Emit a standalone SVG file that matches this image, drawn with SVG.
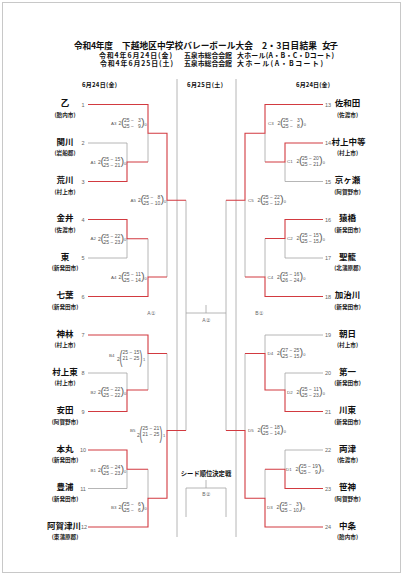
<svg xmlns="http://www.w3.org/2000/svg" width="405" height="577" viewBox="0 0 405 577">
<style>
.t{font-family:"Noto Sans CJK JP",sans-serif;font-weight:bold;fill:#111}
.n{font-family:"Noto Sans CJK JP",sans-serif;font-weight:bold;font-size:8.5px;text-anchor:middle;fill:#111}
.c{font-family:"Noto Sans CJK JP",sans-serif;font-weight:bold;font-size:5.6px;text-anchor:middle;fill:#222}
.num{font-family:"Liberation Sans",sans-serif;font-size:5.5px;text-anchor:middle;fill:#666}
.s{font-family:"Liberation Sans",sans-serif;font-size:5px;fill:#555}
.k{font-family:"Liberation Sans",sans-serif;font-size:4.4px;fill:#555}
.e{text-anchor:end}
.tr{font-family:"Liberation Sans",sans-serif;font-size:4px;fill:#555}
.p{font-family:"Liberation Sans",sans-serif;font-size:11px;fill:#666}
.lb{font-family:"Liberation Sans",sans-serif;font-size:5px;fill:#666;text-anchor:middle}
.r{stroke:#d23a40;stroke-width:1.1;fill:none}
.g{stroke:#a3a3a3;stroke-width:0.8;fill:none}
</style>
<rect x="0" y="0" width="405" height="577" fill="#fff"/>
<rect x="2.5" y="2.5" width="398" height="570" fill="none" stroke="#c8c8c8" stroke-width="1"/>

<g id="title">
<text class="t" font-size="8.7" x="74" y="48.6" textLength="39">令和4年度</text>
<text class="t" font-size="8.7" x="122" y="48.6" textLength="131">下越地区中学校バレーボール大会</text>
<text class="t" font-size="8.7" x="262" y="48.6" textLength="55">2・3日目結果</text>
<text class="t" font-size="8.7" x="322" y="48.6" textLength="16">女子</text>
<text class="t" font-size="6.9" x="99" y="57.8" textLength="73">令和4年6月24日(金)</text>
<text class="t" font-size="6.9" x="184" y="57.8" textLength="48">五泉市総合会館</text>
<text class="t" font-size="6.9" x="237" y="57.8" textLength="97">大ホール(A・B・C・Dコート)</text>
<text class="t" font-size="6.9" x="100" y="66.1" textLength="73">令和4年6月25日(土)</text>
<text class="t" font-size="6.9" x="184" y="66.1" textLength="48">五泉市総合会館</text>
<text class="t" font-size="6.9" x="237" y="66.1" textLength="86">大ホール(A・Bコート)</text>
</g>
<g id="headers">
<text class="t" font-size="6" x="82" y="87.2" textLength="35">6月24日(金)</text>
<text class="t" font-size="6" x="187" y="87.2" textLength="36">6月25日(土)</text>
<text class="t" font-size="6" x="296" y="87.2" textLength="34">6月24日(金)</text>
</g>

<g id="connectors">
<path class="g" d="M177 79V537M236 79V537
M88 143H127M127 143V162M148 133.3V162M88 258H127M127 238.7V258M148 238.7V277M167 200.3V277
M88 373H127M127 373V390M148 353.5V390M88 488.5H127M127 469.3V488.5M148 469.3V498.3M167 353.5V430.5
M186 200.3V430.5M226 200.3V430.5M186 313H226M206 305V313M186 517V488H226V517M206 480V488
M323 181.5H285M285 162V181.5M265 133.3V162M323 258H285M285 238.5V258M265 238.5V277M245 200.3V277
M323 335H265M323 373H285M285 373V390M265 335V353.5M323 450H285M285 450V469.3M265 469.3V498.3M245 353.5V430.5"/>
<path class="r" d="M88 104.5H148V133.3H167V200.3H186M88 181.5H127V162H148M88 219.5H127V238.7H148M88 296.5H148V277H167
M88 335H148V353.5H167M88 411.5H127V390H148M88 450H127V469.3H148M88 527H148V498.3H167V430.5H186
M323 104.5H265V133.3H245V200.3H226M323 143H285V162H265M323 219.5H285V238.5H265M323 296.5H265V277H245
M323 411.5H285V390H265V353.5H245M323 488.5H285V469.3H265M323 527H265V498.3H245V430.5H226"/>
</g>

<g id="round-labels">
<text class="lb" x="151" y="315">A①</text>
<text class="lb" x="259" y="315">B①</text>
<text class="lb" x="206" y="322">A②</text>
<text class="t" font-size="6.3" x="206" y="476" text-anchor="middle">シード順位決定戦</text>
<text class="lb" x="206" y="495.5">B②</text>
</g>

<g id="teams-left">
<g id="t1"><text class="n" x="65" y="106.1">乙</text><text class="c" x="65" y="116.5">(胎内市)</text><text class="num" x="83" y="106.5">1</text></g>
<g id="t2"><text class="n" x="65" y="144.6">関川</text><text class="c" x="65" y="155">(岩船郡)</text><text class="num" x="83" y="145">2</text></g>
<g id="t3"><text class="n" x="65" y="183.1">荒川</text><text class="c" x="65" y="193.5">(村上市)</text><text class="num" x="83" y="183.5">3</text></g>
<g id="t4"><text class="n" x="65" y="221.1">金井</text><text class="c" x="65" y="231.5">(佐渡市)</text><text class="num" x="83" y="221.5">4</text></g>
<g id="t5"><text class="n" x="65" y="259.6">東</text><text class="c" x="65" y="270">(新発田市)</text><text class="num" x="83" y="260">5</text></g>
<g id="t6"><text class="n" x="65" y="298.1">七葉</text><text class="c" x="65" y="308.5">(新発田市)</text><text class="num" x="83" y="298.5">6</text></g>
<g id="t7"><text class="n" x="65" y="336.6">神林</text><text class="c" x="65" y="347">(村上市)</text><text class="num" x="83" y="337">7</text></g>
<g id="t8"><text class="n" x="65" y="374.6">村上東</text><text class="c" x="65" y="385">(村上市)</text><text class="num" x="83" y="375">8</text></g>
<g id="t9"><text class="n" x="65" y="413.1">安田</text><text class="c" x="65" y="423.5">(阿賀野市)</text><text class="num" x="83" y="413.5">9</text></g>
<g id="t10"><text class="n" x="65" y="451.6">本丸</text><text class="c" x="65" y="462">(新発田市)</text><text class="num" x="83" y="452">10</text></g>
<g id="t11"><text class="n" x="65" y="490.1">豊浦</text><text class="c" x="65" y="500.5">(新発田市)</text><text class="num" x="83" y="490.5">11</text></g>
<g id="t12"><text class="n" x="64" y="528.6" font-size="6.6">阿賀津川</text><text class="c" x="65" y="539">(東蒲原郡)</text><text class="num" x="84" y="529">12</text></g>
</g>

<g id="teams-right">
<g id="t13"><text class="n" x="347.5" y="106.1">佐和田</text><text class="c" x="347.5" y="116.5">(佐渡市)</text><text class="num" x="328" y="106.5">13</text></g>
<g id="t14"><text class="n" x="348.5" y="144.6" font-size="7">村上中等</text><text class="c" x="347.5" y="155">(村上市)</text><text class="num" x="328" y="145">14</text></g>
<g id="t15"><text class="n" x="347.5" y="183.1">京ヶ瀬</text><text class="c" x="347.5" y="193.5">(阿賀野市)</text><text class="num" x="328" y="183.5">15</text></g>
<g id="t16"><text class="n" x="347.5" y="221.1">猿橋</text><text class="c" x="347.5" y="231.5">(新発田市)</text><text class="num" x="328" y="221.5">16</text></g>
<g id="t17"><text class="n" x="347.5" y="259.6">聖籠</text><text class="c" x="347.5" y="270">(北蒲原郡)</text><text class="num" x="328" y="260">17</text></g>
<g id="t18"><text class="n" x="347.5" y="298.1">加治川</text><text class="c" x="347.5" y="308.5">(新発田市)</text><text class="num" x="328" y="298.5">18</text></g>
<g id="t19"><text class="n" x="347.5" y="336.6">朝日</text><text class="c" x="347.5" y="347">(村上市)</text><text class="num" x="328" y="337">19</text></g>
<g id="t20"><text class="n" x="347.5" y="374.6">第一</text><text class="c" x="347.5" y="385">(新発田市)</text><text class="num" x="328" y="375">20</text></g>
<g id="t21"><text class="n" x="347.5" y="413.1">川東</text><text class="c" x="347.5" y="423.5">(新発田市)</text><text class="num" x="328" y="413.5">21</text></g>
<g id="t22"><text class="n" x="347.5" y="451.6">両津</text><text class="c" x="347.5" y="462">(佐渡市)</text><text class="num" x="328" y="452">22</text></g>
<g id="t23"><text class="n" x="347.5" y="490.1">笹神</text><text class="c" x="347.5" y="500.5">(阿賀野市)</text><text class="num" x="328" y="490.5">23</text></g>
<g id="t24"><text class="n" x="347.5" y="528.6">中条</text><text class="c" x="347.5" y="539">(胎内市)</text><text class="num" x="328" y="529">24</text></g>
</g>

<g id="scores-left">
<g id="mA3" transform="translate(111,123.5)"><text class="k" x="0" y="1.6">A3</text><text class="s" x="7.5" y="1.8">2</text><text class="p" x="10" y="2.9">(</text><text class="s" x="13" y="-1.2">25 −</text><text class="s e" x="29.8" y="-1.2">3</text><text class="s" x="13" y="4.8">25 −</text><text class="s e" x="29.8" y="4.8">9</text><text class="p" x="30" y="2.9">)</text><text class="tr" x="33.6" y="2.6">0</text></g>
<g id="mA1" transform="translate(90.5,162)"><text class="k" x="0" y="1.6">A1</text><text class="s" x="7.5" y="1.8">2</text><text class="p" x="10" y="2.9">(</text><text class="s" x="13" y="-1.2">25 −</text><text class="s e" x="29.8" y="-1.2">15</text><text class="s" x="13" y="4.8">25 −</text><text class="s e" x="29.8" y="4.8">21</text><text class="p" x="30" y="2.9">)</text><text class="tr" x="33.6" y="2.6">0</text></g>
<g id="mA5" transform="translate(130.5,200.3)"><text class="k" x="0" y="1.6">A5</text><text class="s" x="7.5" y="1.8">2</text><text class="p" x="10" y="2.9">(</text><text class="s" x="13" y="-1.2">25 −</text><text class="s e" x="29.8" y="-1.2">8</text><text class="s" x="13" y="4.8">25 −</text><text class="s e" x="29.8" y="4.8">10</text><text class="p" x="30" y="2.9">)</text><text class="tr" x="33.6" y="2.6">0</text></g>
<g id="mA2" transform="translate(90.5,238.7)"><text class="k" x="0" y="1.6">A2</text><text class="s" x="7.5" y="1.8">2</text><text class="p" x="10" y="2.9">(</text><text class="s" x="13" y="-1.2">25 −</text><text class="s e" x="29.8" y="-1.2">22</text><text class="s" x="13" y="4.8">25 −</text><text class="s e" x="29.8" y="4.8">23</text><text class="p" x="30" y="2.9">)</text><text class="tr" x="33.6" y="2.6">0</text></g>
<g id="mA4" transform="translate(111,277)"><text class="k" x="0" y="1.6">A4</text><text class="s" x="7.5" y="1.8">2</text><text class="p" x="10" y="2.9">(</text><text class="s" x="13" y="-1.2">25 −</text><text class="s e" x="29.8" y="-1.2">11</text><text class="s" x="13" y="4.8">25 −</text><text class="s e" x="29.8" y="4.8">14</text><text class="p" x="30" y="2.9">)</text><text class="tr" x="33.6" y="2.6">0</text></g>
<g id="mB4" transform="translate(109,358)"><text class="k" x="0" y="-1.4">B4</text><text class="s" x="8" y="2.6">2</text><text class="p" transform="translate(10.5,4.6) scale(0.8,1.6)">(</text><text class="s" x="13.5" y="-4.2">25 −</text><text class="s e" x="30.3" y="-4.2">15</text><text class="s" x="13.5" y="1.8">21 −</text><text class="s e" x="30.3" y="1.8">25</text><text class="p" transform="translate(30.5,4.6) scale(0.8,1.6)">)</text><text class="tr" x="34" y="3">1</text></g>
<g id="mB2" transform="translate(90.5,392)"><text class="k" x="0" y="1.6">B2</text><text class="s" x="7.5" y="1.8">2</text><text class="p" x="10" y="2.9">(</text><text class="s" x="13" y="-1.2">25 −</text><text class="s e" x="29.8" y="-1.2">22</text><text class="s" x="13" y="4.8">25 −</text><text class="s e" x="29.8" y="4.8">22</text><text class="p" x="30" y="2.9">)</text><text class="tr" x="33.6" y="2.6">0</text></g>
<g id="mB5" transform="translate(130,434)"><text class="k" x="0" y="-2.2">B5</text><text class="s" x="7" y="2.6">2</text><text class="p" transform="translate(9.5,4.6) scale(0.8,1.6)">(</text><text class="s" x="12.5" y="-4.2">25 −</text><text class="s e" x="29.3" y="-4.2">21</text><text class="s" x="12.5" y="1.8">21 −</text><text class="s e" x="29.3" y="1.8">25</text><text class="p" transform="translate(29.5,4.6) scale(0.8,1.6)">)</text><text class="tr" x="33" y="3">1</text></g>
<g id="mB1" transform="translate(90.5,470)"><text class="k" x="0" y="1.6">B1</text><text class="s" x="7.5" y="1.8">2</text><text class="p" x="10" y="2.9">(</text><text class="s" x="13" y="-1.2">26 −</text><text class="s e" x="29.8" y="-1.2">24</text><text class="s" x="13" y="4.8">25 −</text><text class="s e" x="29.8" y="4.8">23</text><text class="p" x="30" y="2.9">)</text><text class="tr" x="33.6" y="2.6">0</text></g>
<g id="mB3" transform="translate(111,507.5)"><text class="k" x="0" y="1.6">B3</text><text class="s" x="7.5" y="1.8">2</text><text class="p" x="10" y="2.9">(</text><text class="s" x="13" y="-1.2">25 −</text><text class="s e" x="29.8" y="-1.2">6</text><text class="s" x="13" y="4.8">25 −</text><text class="s e" x="29.8" y="4.8">6</text><text class="p" x="30" y="2.9">)</text><text class="tr" x="33.6" y="2.6">0</text></g>
</g>

<g id="scores-right">
<g id="mC3" transform="translate(268,123.5)"><text class="k" x="0" y="1.6">C3</text><text class="s" x="9.5" y="1.8">2</text><text class="p" x="12" y="2.9">(</text><text class="s" x="15" y="-1.2">25 −</text><text class="s e" x="31.8" y="-1.2">3</text><text class="s" x="15" y="4.8">25 −</text><text class="s e" x="31.8" y="4.8">8</text><text class="p" x="32" y="2.9">)</text><text class="tr" x="35.8" y="2.6">0</text></g>
<g id="mC1" transform="translate(287,161)"><text class="k" x="0" y="1.6">C1</text><text class="s" x="9.5" y="1.8">2</text><text class="p" x="12" y="2.9">(</text><text class="s" x="15" y="-1.2">25 −</text><text class="s e" x="31.8" y="-1.2">20</text><text class="s" x="15" y="4.8">25 −</text><text class="s e" x="31.8" y="4.8">21</text><text class="p" x="32" y="2.9">)</text><text class="tr" x="35.8" y="2.6">0</text></g>
<g id="mC5" transform="translate(248,200.3)"><text class="k" x="0" y="1.6">C5</text><text class="s" x="9.5" y="1.8">2</text><text class="p" x="12" y="2.9">(</text><text class="s" x="15" y="-1.2">25 −</text><text class="s e" x="31.8" y="-1.2">22</text><text class="s" x="15" y="4.8">25 −</text><text class="s e" x="31.8" y="4.8">12</text><text class="p" x="32" y="2.9">)</text><text class="tr" x="35.8" y="2.6">0</text></g>
<g id="mC2" transform="translate(287,238.5)"><text class="k" x="0" y="1.6">C2</text><text class="s" x="9.5" y="1.8">2</text><text class="p" x="12" y="2.9">(</text><text class="s" x="15" y="-1.2">25 −</text><text class="s e" x="31.8" y="-1.2">15</text><text class="s" x="15" y="4.8">25 −</text><text class="s e" x="31.8" y="4.8">15</text><text class="p" x="32" y="2.9">)</text><text class="tr" x="35.8" y="2.6">0</text></g>
<g id="mC4" transform="translate(267.5,277)"><text class="k" x="0" y="1.6">C4</text><text class="s" x="9.5" y="1.8">2</text><text class="p" x="12" y="2.9">(</text><text class="s" x="15" y="-1.2">25 −</text><text class="s e" x="31.8" y="-1.2">16</text><text class="s" x="15" y="4.8">26 −</text><text class="s e" x="31.8" y="4.8">24</text><text class="p" x="32" y="2.9">)</text><text class="tr" x="35.8" y="2.6">0</text></g>
<g id="mD4" transform="translate(267.5,353.5)"><text class="k" x="0" y="1.6">D4</text><text class="s" x="9.5" y="1.8">2</text><text class="p" x="12" y="2.9">(</text><text class="s" x="15" y="-1.2">27 −</text><text class="s e" x="31.8" y="-1.2">25</text><text class="s" x="15" y="4.8">25 −</text><text class="s e" x="31.8" y="4.8">15</text><text class="p" x="32" y="2.9">)</text><text class="tr" x="35.8" y="2.6">0</text></g>
<g id="mD2" transform="translate(287,392)"><text class="k" x="0" y="1.6">D2</text><text class="s" x="9.5" y="1.8">2</text><text class="p" x="12" y="2.9">(</text><text class="s" x="15" y="-1.2">25 −</text><text class="s e" x="31.8" y="-1.2">11</text><text class="s" x="15" y="4.8">25 −</text><text class="s e" x="31.8" y="4.8">23</text><text class="p" x="32" y="2.9">)</text><text class="tr" x="35.8" y="2.6">0</text></g>
<g id="mD5" transform="translate(248,430.5)"><text class="k" x="0" y="1.6">D5</text><text class="s" x="9.5" y="1.8">2</text><text class="p" x="12" y="2.9">(</text><text class="s" x="15" y="-1.2">25 −</text><text class="s e" x="31.8" y="-1.2">18</text><text class="s" x="15" y="4.8">25 −</text><text class="s e" x="31.8" y="4.8">14</text><text class="p" x="32" y="2.9">)</text><text class="tr" x="35.8" y="2.6">0</text></g>
<g id="mD1" transform="translate(286,469.3)"><text class="k" x="0" y="1.6">D1</text><text class="s" x="9.5" y="1.8">2</text><text class="p" x="12" y="2.9">(</text><text class="s" x="15" y="-1.2">25 −</text><text class="s e" x="31.8" y="-1.2">19</text><text class="s" x="15" y="4.8">25 −</text><text class="s e" x="31.8" y="4.8">9</text><text class="p" x="32" y="2.9">)</text><text class="tr" x="35.8" y="2.6">0</text></g>
<g id="mD3" transform="translate(267,507)"><text class="k" x="0" y="1.6">D3</text><text class="s" x="9.5" y="1.8">2</text><text class="p" x="12" y="2.9">(</text><text class="s" x="15" y="-1.2">25 −</text><text class="s e" x="31.8" y="-1.2">3</text><text class="s" x="15" y="4.8">25 −</text><text class="s e" x="31.8" y="4.8">10</text><text class="p" x="32" y="2.9">)</text><text class="tr" x="35.8" y="2.6">0</text></g>
</g>
</svg>
